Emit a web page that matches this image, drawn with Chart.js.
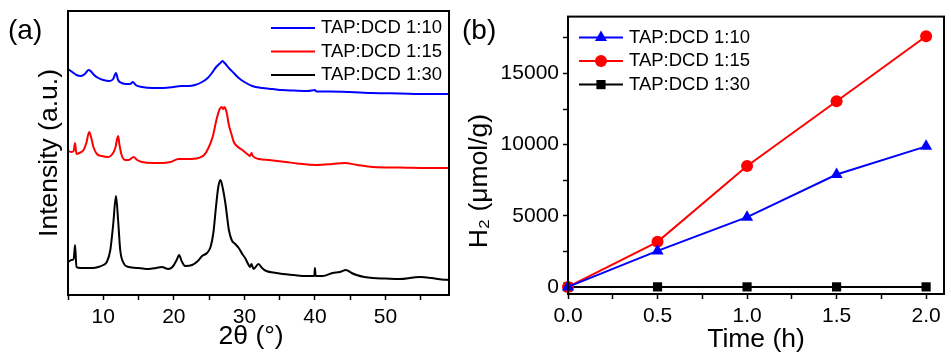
<!DOCTYPE html>
<html>
<head>
<meta charset="utf-8">
<script src="https://cdn.jsdelivr.net/npm/chart.js@4/dist/chart.umd.min.js"></script>
<style>
  body { margin: 0; background: #fff; }
  #wrap { position: relative; width: 951px; height: 353px; overflow: hidden; background: #fff; }
  canvas { position: absolute; top: 0; }
  #chartA { left: 0; }
  #chartB { left: 460px; }
  .panel { position: absolute; font-family: "Liberation Sans", Arial, sans-serif; font-size: 28px; line-height: 1; color: #000; }
</style>
</head>
<body>
<div id="wrap">
  <canvas id="chartA" width="460" height="353"></canvas>
  <canvas id="chartB" width="491" height="353"></canvas>
  <div class="panel" style="left:8px; top:16px;">(a)</div>
  <div class="panel" style="left:462px; top:16px;">(b)</div>
</div>
<script>
// ---- data: panel (a), XRD patterns (2theta, intensity in arbitrary units, offset stacked)
const xrd110 = [
  [5.0,226],[5.6,223],[6.2,220],[6.8,219],[7.4,221],[7.9,225],[8.2,224],[8.7,220],[9.3,217],
  [10.0,215],[10.9,214],[11.4,216],[11.8,222],[12.1,215],[12.6,212],[13.3,211],[13.8,211],
  [14.2,213],[14.6,210],[15.5,208],[17.0,207],[18.5,207],[20.0,208],[21.0,209],[22.1,209],
  [23.0,210],[24.0,213],[24.8,217],[25.4,222],[26.0,228],[26.6,232],[26.9,234],[27.2,232],
  [27.8,227],[28.5,222],[29.2,217],[30.0,213],[31.1,209],[32.5,207],[34.0,206],[35.4,205],
  [37.0,204.5],[39.0,204],[40.0,205],[40.2,203.5],[42.0,203.5],[44.9,203],[48.0,202],
  [52.0,201.5],[56.0,201],[59.0,201]
];
const xrd115 = [
  [5.0,144],[5.5,143],[5.8,144],[6.0,152],[6.2,141],[6.6,142],[7.2,145],[7.6,152],[8.0,163],
  [8.3,157],[8.6,148],[9.1,141],[9.8,139],[10.7,138],[11.3,141],[11.7,147],[12.1,159],
  [12.3,150],[12.6,140],[13.1,135],[13.6,135],[14.3,138],[14.8,135],[15.5,133],[17.0,132],
  [18.3,132],[19.5,133],[20.7,136],[22.0,136],[23.5,137],[24.3,140],[24.9,147],[25.5,158],
  [26.1,177],[26.5,186],[26.8,188],[27.0,186],[27.2,188],[27.5,182],[27.8,170],[28.2,160],
  [28.5,153],[29.1,148],[29.7,145],[30.4,141],[30.8,139],[31.0,142],[31.2,139],[32.1,136],
  [33.5,135],[35.9,133],[37.5,131.5],[40.2,130],[42.5,131],[44.2,132],[46.0,130],[48.2,128],
  [52.0,127.5],[56.0,127],[59.0,127]
];
const xrd130 = [
  [5.0,33],[5.5,35],[5.8,36],[6.0,50],[6.2,28],[6.8,27],[7.4,27],[8.5,27],[9.3,28],[10.0,30],
  [10.5,33],[11.0,45],[11.4,70],[11.8,99],[12.1,75],[12.4,45],[12.8,33],[13.6,28],[15.0,27],
  [16.4,26],[17.5,27],[18.3,28],[19.2,26],[19.8,28],[20.4,35],[20.75,40],[21.1,34],[21.6,29],
  [22.6,30],[23.4,34],[24.0,39],[24.7,42],[25.2,48],[25.6,62],[26.0,90],[26.3,108],[26.6,115],
  [26.9,108],[27.3,92],[27.8,65],[28.2,55],[28.7,51],[29.2,47],[29.7,41],[30.1,37],[30.6,30],
  [30.8,28],[31.0,31],[31.3,26],[32.0,31],[32.5,27],[33.1,24],[34.5,22],[35.4,21],[37.0,20],
  [38.7,19],[39.9,19],[40.0,27],[40.1,19],[41.1,19],[42.5,22],[43.5,23],[44.4,25],[45.2,22],
  [45.9,20],[47.0,18],[48.2,17],[50.0,16.5],[52.0,16],[54.0,17.5],[55.0,18],[56.5,17],
  [58.0,15.5],[59.0,15]
];
const xTicksA = [5, 10, 15, 20, 25, 30, 35, 40, 45, 50, 55];
const xLabelsA = [10, 20, 30, 40, 50];

// ---- data: panel (b), H2 evolution
const times = [0, 0.5, 1.0, 1.5, 2.0];
const h2_110 = [0, 2530, 4900, 7900, 9880];
const h2_115 = [0, 3170, 8500, 13050, 17620];
const h2_130 = [0, 0, 0, 0, 0];
const xTicksB = [0, 0.25, 0.5, 0.75, 1.0, 1.25, 1.5, 1.75, 2.0];
const xLabelsB = [0, 0.5, 1.0, 1.5, 2.0];
const yTicksB = [0, 2500, 5000, 7500, 10000, 12500, 15000, 17500];
const yLabelsB = [0, 5000, 10000, 15000];

const seriesNames = ['TAP:DCD 1:10', 'TAP:DCD 1:15', 'TAP:DCD 1:30'];
const seriesColors = ['#0000ff', '#ff0000', '#000000'];

Chart.defaults.font.family = '"Liberation Sans", Arial, sans-serif';
Chart.defaults.color = '#000';

// box round the plot area
const frame = {
  id: 'frame',
  afterDatasetsDraw(chart) {
    const a = chart.chartArea;
    const ctx = chart.ctx;
    ctx.save();
    ctx.strokeStyle = '#000';
    ctx.lineWidth = 2;
    ctx.strokeRect(a.left, a.top, a.right - a.left, a.bottom - a.top);
    ctx.restore();
  }
};

function marker(ctx, style, r, x, y) {
  ctx.beginPath();
  if (style === 'triangle') {
    for (let k = 0; k < 3; k++) {
      const ang = k * 2 * Math.PI / 3;
      const px = x + Math.sin(ang) * r, py = y - Math.cos(ang) * r;
      k ? ctx.lineTo(px, py) : ctx.moveTo(px, py);
    }
    ctx.closePath();
  } else if (style === 'rect') {
    const s = r * Math.SQRT1_2;
    ctx.rect(x - s, y - s, 2 * s, 2 * s);
  } else {
    ctx.arc(x, y, r, 0, 2 * Math.PI);
  }
  ctx.fill();
}

// legend drawn inside the plot area
const insideLegend = {
  id: 'insideLegend',
  afterDraw(chart, args, opts) {
    const {ctx, chartArea} = chart;
    ctx.save();
    ctx.font = opts.font;
    ctx.textBaseline = 'middle';
    chart.data.datasets.forEach((ds, i) => {
      const x0 = chartArea.left + opts.x;
      const y = chartArea.top + opts.y + i * opts.row;
      ctx.strokeStyle = ds.borderColor;
      ctx.lineWidth = ds.borderWidth;
      ctx.beginPath();
      ctx.moveTo(x0, y);
      ctx.lineTo(x0 + opts.len, y);
      ctx.stroke();
      if (ds.pointRadius) {
        ctx.fillStyle = ds.backgroundColor;
        marker(ctx, ds.pointStyle, ds.pointRadius, x0 + opts.len / 2, y);
      }
      ctx.fillStyle = '#000';
      ctx.fillText(ds.label, x0 + opts.len + opts.gap, y);
    });
    ctx.restore();
  }
};

const tickGrid = { display: true, drawOnChartArea: false, drawTicks: true, tickLength: 5, tickWidth: 1.5, tickColor: '#000' };
const titleFont = { size: 26.5, lineHeight: 1 };

// Panel (a)
new Chart(document.getElementById('chartA'), {
  type: 'line',
  data: {
    datasets: [xrd110, xrd115, xrd130].map((s, i) => ({
      label: seriesNames[i],
      data: s.map(p => ({x: p[0], y: p[1]})),
      borderColor: seriesColors[i],
      backgroundColor: seriesColors[i],
      borderWidth: 2,
      pointRadius: 0,
      cubicInterpolationMode: 'monotone'
    }))
  },
  options: {
    responsive: false,
    animation: false,
    layout: { padding: { top: 11, right: 11, left: 0, bottom: 0 } },
    plugins: {
      legend: { display: false },
      tooltip: { enabled: false },
      insideLegend: { x: 203, y: 17, row: 23.5, len: 44, gap: 6, font: '18.5px "Liberation Sans", Arial, sans-serif' }
    },
    scales: {
      x: {
        type: 'linear', min: 5, max: 59,
        afterBuildTicks: s => { s.ticks = xTicksA.map(v => ({value: v})); },
        afterFit: s => { s.height = 58; },
        grid: tickGrid,
        border: { display: false },
        ticks: { autoSkip: false, maxRotation: 0, padding: 5, font: { size: 21 },
                 callback: v => xLabelsA.includes(v) ? String(v) : '' },
        title: { display: true, text: '2θ (°)  ', font: titleFont, padding: { top: 0, bottom: 3 } }
      },
      y: {
        min: 0, max: 284,
        afterFit: s => { s.width = 68; },
        grid: { display: false },
        border: { display: false },
        ticks: { display: false },
        title: { display: true, text: 'Intensity (a.u.)', font: titleFont, padding: { top: 36, bottom: 0 } }
      }
    }
  },
  plugins: [frame, insideLegend]
});

// Panel (b)
const styleB = ['triangle', 'circle', 'rect'];
const radiusB = [7, 6, 6.5];
new Chart(document.getElementById('chartB'), {
  type: 'line',
  data: {
    datasets: [h2_110, h2_115, h2_130].map((s, i) => ({
      label: seriesNames[i],
      data: s.map((v, k) => ({x: times[k], y: v})),
      borderColor: seriesColors[i],
      backgroundColor: seriesColors[i],
      borderWidth: 2,
      pointStyle: styleB[i],
      pointRadius: radiusB[i],
      pointBorderWidth: 0,
      clip: false
    }))
  },
  options: {
    responsive: false,
    animation: false,
    layout: { padding: { top: 11, right: 1, left: 0, bottom: 0 } },
    plugins: {
      legend: { display: false },
      tooltip: { enabled: false },
      insideLegend: { x: 11, y: 21, row: 23.5, len: 44, gap: 6, font: '18.5px "Liberation Sans", Arial, sans-serif' }
    },
    scales: {
      x: {
        type: 'linear', min: 0, max: 2.1,
        afterBuildTicks: s => { s.ticks = xTicksB.map(v => ({value: v})); },
        afterFit: s => { s.height = 59; },
        grid: tickGrid,
        border: { display: false },
        ticks: { autoSkip: false, maxRotation: 0, padding: 5, font: { size: 21 },
                 callback: v => xLabelsB.includes(v) ? v.toFixed(1) : '' },
        title: { display: true, text: 'Time (h)', font: titleFont, padding: { top: 0, bottom: 0 } }
      },
      y: {
        min: -500, max: 19000,
        afterBuildTicks: s => { s.ticks = yTicksB.map(v => ({value: v})); },
        afterFit: s => { s.width = 108; },
        grid: tickGrid,
        border: { display: false },
        ticks: { autoSkip: false, padding: 4, font: { size: 21 },
                 callback: v => yLabelsB.includes(v) ? String(v) : '' },
        title: { display: true, text: 'H₂ (μmol/g)       ', font: titleFont, padding: { top: 6.5, bottom: 0 } }
      }
    }
  },
  plugins: [frame, insideLegend]
});
</script>
</body>
</html>
